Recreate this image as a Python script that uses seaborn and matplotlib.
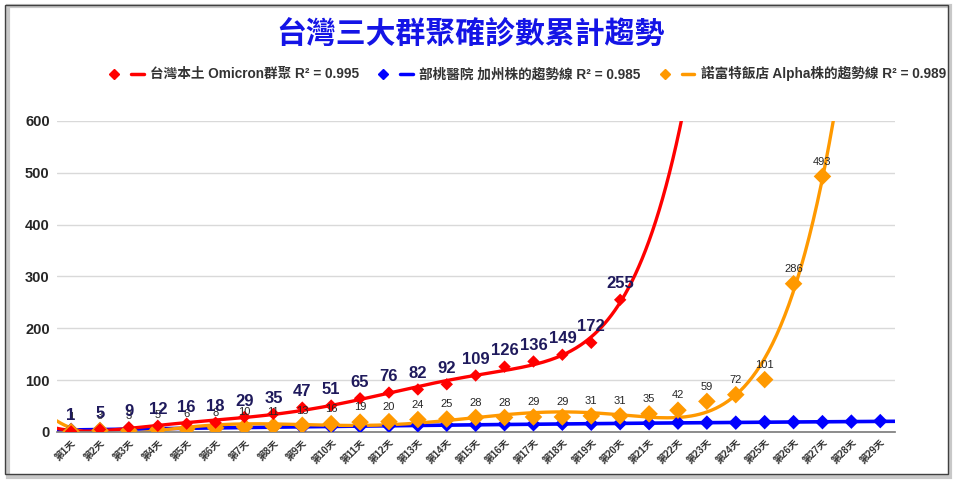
import numpy as np
import pandas as pd
import matplotlib
matplotlib.use("Agg")
import matplotlib.pyplot as plt
from matplotlib.legend_handler import HandlerTuple
from matplotlib.lines import Line2D
from matplotlib.patches import Rectangle
import seaborn as sns

sns.set_theme(style="white")
plt.rcParams['font.family'] = ['Liberation Sans', 'Noto Sans CJK TC', 'DejaVu Sans']

# 資料
dias = [f"第{i}天" for i in range(1, 30)]
omicron = [1, 5, 9, 12, 16, 18, 29, 35, 47, 51, 65, 76, 82, 92, 109, 126, 136, 149, 172, 255]
alpha = [1, 3, 3, 5, 6, 8, 10, 11, 13, 16, 19, 20, 24, 25, 28, 28, 29, 29, 31, 31,
         35, 42, 59, 72, 101, 286, 493]
california = [4, 5, 6, 7, 7, 8, 8, 9, 9, 10, 11, 12, 13, 14, 14, 15, 15, 16, 16, 17,
              17, 18, 18, 18, 19, 19, 19, 20, 21]

legend_labels = ["台灣本土 Omicron群聚 R² = 0.995",
                 "部桃醫院 加州株的趨勢線 R² = 0.985",
                 "諾富特飯店 Alpha株的趨勢線 R² = 0.989"]
cores = ["#FF0000", "#0000FF", "#FF9900"]


def tendencia(valores, grau, x_fim):
    x = np.arange(1, len(valores) + 1)
    coef = np.polyfit(x, valores, grau)
    xs = np.linspace(0.5, x_fim, 400)
    return pd.DataFrame({"x": xs, "y": np.polyval(coef, xs)})


fig = plt.figure(figsize=(9.6, 4.83), dpi=100)
ax = fig.add_axes([0.059, 0.1056, 0.873, 0.644])

t_red = tendencia(omicron, 6, 24)
t_blue = tendencia(california, 2, 29.5)
t_orange = tendencia(alpha, 6, 28.5)

sns.lineplot(data=t_blue, x="x", y="y", color=cores[1], lw=2.6, ax=ax)
sns.lineplot(data=t_orange, x="x", y="y", color=cores[2], lw=2.4, ax=ax)
sns.lineplot(data=t_red, x="x", y="y", color=cores[0], lw=2.4, ax=ax)

df_r = pd.DataFrame({"x": np.arange(1, len(omicron) + 1), "y": omicron})
df_o = pd.DataFrame({"x": np.arange(1, len(alpha) + 1), "y": alpha})
df_b = pd.DataFrame({"x": np.arange(1, len(california) + 1), "y": california})

sns.scatterplot(data=df_b, x="x", y="y", marker="D", s=55, color=cores[1], edgecolor="none", ax=ax, zorder=4)
sns.scatterplot(data=df_o, x="x", y="y", marker="D", s=80, color=cores[2], edgecolor="none", ax=ax, zorder=5)
sns.scatterplot(data=df_r, x="x", y="y", marker="D", s=40, color=cores[0], edgecolor="none", ax=ax, zorder=6)

for x, y in zip(df_o["x"], df_o["y"]):
    ax.annotate(str(y), (x, y), xytext=(0, 7), textcoords="offset points",
                ha="center", va="bottom", fontsize=8, color="#262626", zorder=7)
for x, y in zip(df_r["x"], df_r["y"]):
    ax.annotate(str(y), (x, y), xytext=(0, 6), textcoords="offset points",
                ha="center", va="bottom", fontsize=12, fontweight="bold", color="#1F1A5C", zorder=8)

ax.set_xlim(0.5, 29.5)
ax.set_ylim(0, 600)
ax.set_yticks(range(0, 601, 100))
ax.set_xticks(range(1, 30))
ax.set_xticklabels(dias, rotation=45, ha="right", rotation_mode="anchor", fontsize=7,
                   fontweight="bold", color="#333333")
ax.tick_params(axis="y", labelsize=10.5, length=0, pad=5)
ax.tick_params(axis="x", length=0, pad=4)
for lbl in ax.get_yticklabels():
    lbl.set_fontweight("bold")
    lbl.set_color("#262626")
ax.set_xlabel("")
ax.set_ylabel("")
ax.grid(axis="y", color="#D9D9D9", lw=1)
for s in ["top", "right", "left"]:
    ax.spines[s].set_visible(False)
ax.spines["bottom"].set_color("#7F7F7F")

fig.text(0.49, 0.927, "台灣三大群聚確診數累計趨勢", ha="center", va="center",
         fontsize=21.5, fontweight="bold", color="#1414E6")

handles = [(Line2D([], [], ls="none", marker="D", ms=5, color=c), Line2D([], [], color=c, lw=2.5))
           for c in cores]
leg = fig.legend(handles, legend_labels, handler_map={tuple: HandlerTuple(ndivide=None, pad=0.8)},
                 loc="center", bbox_to_anchor=(0.549, 0.847), ncol=3, frameon=False,
                 fontsize=9.8, handlelength=2.6, columnspacing=1.3, handletextpad=0.5,
                 labelcolor="#333333")
for t in leg.get_texts():
    t.set_fontweight("bold")

fig.patches.append(Rectangle((0.008, 0.012), 0.982, 0.976, transform=fig.transFigure,
                             fill=False, ec="#C8C8C8", lw=3))
fig.patches.append(Rectangle((0.005, 0.018), 0.982, 0.972, transform=fig.transFigure,
                             fill=False, ec="#404040", lw=1))

fig.savefig("out.png", dpi=100)
